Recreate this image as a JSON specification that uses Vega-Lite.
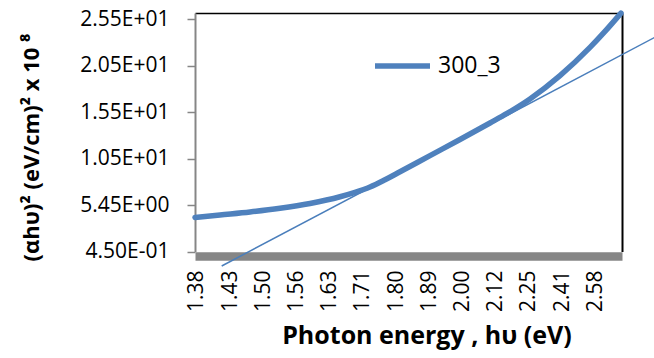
{
  "$schema": "https://vega.github.io/schema/vega-lite/v6.json",
  "width": 427,
  "height": 238.5,
  "autosize": {"type": "none"},
  "padding": {"left": 195, "top": 13, "right": 32, "bottom": 106.5},
  "background": "white",
  "config": {
    "view": {"stroke": null},
    "font": "Open Sans",
    "axis": {"grid": false}
  },
  "datasets": {
    "curve": [
      {"series": "300_3", "E": 1.3761, "v": 4.11},
      {"series": "300_3", "E": 1.4174, "v": 4.38},
      {"series": "300_3", "E": 1.4704, "v": 4.70},
      {"series": "300_3", "E": 1.5275, "v": 5.10},
      {"series": "300_3", "E": 1.5892, "v": 5.62},
      {"series": "300_3", "E": 1.6561, "v": 6.34},
      {"series": "300_3", "E": 1.6917, "v": 6.81},
      {"series": "300_3", "E": 1.7288, "v": 7.39},
      {"series": "300_3", "E": 1.7677, "v": 8.17},
      {"series": "300_3", "E": 1.8083, "v": 9.03},
      {"series": "300_3", "E": 1.8954, "v": 10.77},
      {"series": "300_3", "E": 1.9913, "v": 12.50},
      {"series": "300_3", "E": 2.0975, "v": 14.28},
      {"series": "300_3", "E": 2.1629, "v": 15.31},
      {"series": "300_3", "E": 2.2580, "v": 16.87},
      {"series": "300_3", "E": 2.3955, "v": 19.38},
      {"series": "300_3", "E": 2.5509, "v": 22.42},
      {"series": "300_3", "E": 2.6363, "v": 24.14},
      {"series": "300_3", "E": 2.7340, "v": 26.11}
    ],
    "tangent": [
      {"E": 1.42031, "v": -1.111},
      {"E": 3.3464, "v": 26.07}
    ]
  },
  "layer": [
    {
      "data": {"name": "tangent"},
      "mark": {"type": "line", "strokeWidth": 1.5, "color": "#4A7EBB", "clip": false},
      "encoding": {
        "x": {
          "field": "E", "type": "quantitative",
          "scale": {"type": "pow", "exponent": -1, "domain": [1.37609, 2.74039], "zero": false, "nice": false},
          "axis": {"orient": "top", "labels": false, "ticks": false, "title": null, "domainColor": "#000000", "domainWidth": 1.5}
        },
        "y": {
          "field": "v", "type": "quantitative",
          "scale": {"domain": [0.45, 26.12], "zero": false, "nice": false},
          "axis": {"orient": "right", "labels": false, "ticks": false, "title": null, "domainColor": "#000000", "domainWidth": 2}
        }
      }
    },
    {
      "data": {"name": "curve"},
      "mark": {"type": "line", "strokeWidth": 5.5, "interpolate": "monotone", "strokeCap": "round"},
      "encoding": {
        "x": {
          "field": "E", "type": "quantitative",
          "scale": {"type": "pow", "exponent": -1, "domain": [1.37609, 2.74039], "zero": false, "nice": false},
          "axis": {
            "orient": "bottom",
            "values": [1.3793, 1.4349, 1.4952, 1.5608, 1.6324, 1.7109, 1.7974, 1.893, 1.9994, 2.1184, 2.2525, 2.4059, 2.579],
            "format": ".2f",
            "labelAngle": 270,
            "labelFontSize": 21,
            "labelColor": "#000000",
            "labelPadding": 14,
            "labelFlush": false,
            "labelOverlap": false,
            "labelBound": false,
            "ticks": false,
            "tickSize": 0,
            "domainColor": "#868686",
            "domainWidth": 8.5,
            "offset": 4.5,
            "title": "Photon energy , hυ (eV)",
            "titleFontSize": 25,
            "titleFontWeight": "bold",
            "titleColor": "#000000",
            "titleX": 231.5,
            "titleY": 87,
            "titleAlign": "center",
            "titleBaseline": "alphabetic"
          }
        },
        "y": {
          "field": "v", "type": "quantitative",
          "scale": {"domain": [0.45, 26.12], "zero": false, "nice": false},
          "axis": {
            "orient": "left",
            "values": [0.45, 5.45, 10.4500001, 15.4500001, 20.4500001, 25.4500001],
            "labelExpr": "replace(replace(format(datum.value, '.2e'), 'e+', 'E+0'), 'e-', 'E-0')",
            "labelFontSize": 21,
            "labelColor": "#000000",
            "labelPadding": 18,
            "labelFlush": false,
            "labelOverlap": false,
            "labelBound": false,
            "tickSize": 8,
            "tickColor": "#868686",
            "tickWidth": 1.5,
            "domainColor": "#868686",
            "domainWidth": 2,
            "title": "(αhυ)² (eV/cm)²  x 10 ⁸",
            "titleFontSize": 22,
            "titleFontWeight": "bold",
            "titleColor": "#000000",
            "titleAngle": 270,
            "titleX": -164,
            "titleY": 134,
            "titleAlign": "center",
            "titleBaseline": "middle"
          }
        },
        "color": {
          "field": "series", "type": "nominal",
          "scale": {"range": ["#4F81BD"]},
          "legend": {
            "orient": "none",
            "legendX": 177,
            "legendY": 22.5,
            "title": null,
            "symbolType": "stroke",
            "symbolSize": 3025,
            "symbolStrokeWidth": 5.5,
            "labelFontSize": 23,
            "labelColor": "#000000",
            "labelOffset": 5,
            "padding": 0
          }
        }
      }
    }
  ],
  "resolve": {"axis": {"x": "independent", "y": "independent"}}
}
